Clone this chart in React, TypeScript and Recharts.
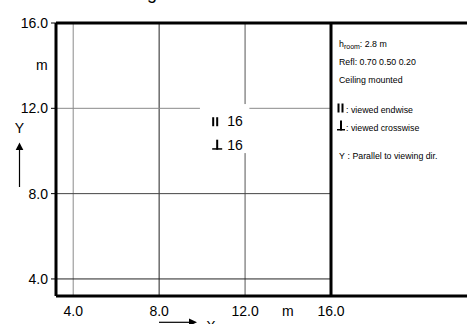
import React from 'react';
import { ComposedChart, XAxis, YAxis, ReferenceLine, Scatter } from 'recharts';

// room plan, metres
const xTicks = [4, 8, 12, 16];
const yTicks = [4, 8, 12, 16];
const gridX = [4, 8, 12];
const gridY = [4, 8, 12];
const roomEnd = 16;
const xDomain = [3.2, 22.33];
const yDomain = [3.2, 16];
// hole in the grid behind the luminaire counts
const labelGap = { x1: 9.9, x2: 12.2, y1: 9.9, y2: 12.2 };
const counts = [
  { x: 10.47, y: 11.16, view: 'endwise', n: 16 },
  { x: 10.47, y: 10.06, view: 'crosswise', n: 16 },
];
const infoLines = ['Refl: 0.70 0.50 0.20', 'Ceiling mounted'];

const W = 467;
const H = 324;
const FONT = "'Liberation Sans', Arial, sans-serif";

const shade: Record<string, string> = {
  x4: '#8a8a8a', x8: '#222', x12: '#555',
  y4: '#222', y8: '#444', y12: '#8a8a8a',
};

const split = (v: number, lo: number, hi: number, a: number, b: number, g1: number, g2: number) =>
  v > lo && v < hi ? [[a, g1], [g2, b]] : [[a, b]];

const EndwiseMark = ({ x, y }: { x: number; y: number }) => (
  <g fill="#000">
    <rect x={x} y={y - 9} width={2} height={9} />
    <rect x={x + 4} y={y - 9} width={2} height={9} />
  </g>
);
const CrosswiseMark = ({ x, y, w = 10 }: { x: number; y: number; w?: number }) => (
  <g fill="#000">
    <rect x={x + w / 2 - 1} y={y - 10} width={2} height={10} />
    <rect x={x} y={y - 1.5} width={w} height={1.5} />
  </g>
);

const CountShape = (props: any) => {
  const { cx, cy, payload } = props;
  return (
    <g>
      {payload.view === 'endwise'
        ? <EndwiseMark x={cx} y={cy} />
        : <CrosswiseMark x={cx} y={cy} />}
      <text x={cx + 15} y={cy} fontSize={14} fontFamily={FONT} fill="#000">{payload.n}</text>
    </g>
  );
};

export default function App() {
  const vSegs = gridX.flatMap((x) =>
    split(x, labelGap.x1, labelGap.x2, yDomain[0], roomEnd, labelGap.y1, labelGap.y2).map((s) => ({ x, s })));
  const hSegs = gridY.flatMap((y) =>
    split(y, labelGap.y1, labelGap.y2, xDomain[0], roomEnd, labelGap.x1, labelGap.x2).map((s) => ({ y, s })));

  return (
    <div style={{ position: 'absolute', left: 0, top: 0, width: W, height: H, background: '#fff' }}>
      <ComposedChart width={W} height={H} margin={{ top: 23, right: 0, bottom: 0, left: 0 }}>
        <XAxis
          type="number"
          dataKey="x"
          domain={xDomain}
          ticks={xTicks}
          allowDataOverflow
          height={28}
          tickFormatter={(v: number) => v.toFixed(1)}
          tick={{ fontSize: 14, fill: '#000', fontFamily: FONT }}
          tickLine={false}
          tickSize={6}
          tickMargin={4}
          axisLine={{ stroke: '#000', strokeWidth: 3 }}
        />
        <YAxis
          type="number"
          dataKey="y"
          domain={yDomain}
          ticks={yTicks}
          allowDataOverflow
          width={56}
          tickFormatter={(v: number) => v.toFixed(1)}
          tick={{ fontSize: 14, fill: '#000', fontFamily: FONT }}
          tickLine={{ stroke: '#000' }}
          tickSize={5}
          tickMargin={3}
          axisLine={{ stroke: '#000', strokeWidth: 3 }}
        />
        {vSegs.map(({ x, s }, i) => (
          <ReferenceLine key={'v' + i} segment={[{ x, y: s[0] }, { x, y: s[1] }]}
            stroke={shade['x' + x]} strokeWidth={1} ifOverflow="visible" />
        ))}
        {hSegs.map(({ y, s }, i) => (
          <ReferenceLine key={'h' + i} segment={[{ x: s[0], y }, { x: s[1], y }]}
            stroke={shade['y' + y]} strokeWidth={1} ifOverflow="visible" />
        ))}
        <ReferenceLine y={roomEnd} stroke="#000" strokeWidth={3} ifOverflow="visible" />
        <ReferenceLine x={roomEnd} stroke="#000" strokeWidth={3} ifOverflow="visible" />
        <Scatter data={counts} shape={CountShape} isAnimationActive={false} />
      </ComposedChart>

      <svg width={W} height={H} style={{ position: 'absolute', left: 0, top: 0, pointerEvents: 'none' }}>
        <text x={157} y={-1} textAnchor="end" fontSize={18} fontFamily={FONT}>Planning</text>

        {/* axis units and direction arrows */}
        <text x={36} y={70} fontSize={14} fontFamily={FONT}>m</text>
        <text x={282} y={316} fontSize={14} fontFamily={FONT}>m</text>
        <text x={19.5} y={133} textAnchor="middle" fontSize={14} fontFamily={FONT}>Y</text>
        <line x1={19.5} y1={187} x2={19.5} y2={149} stroke="#000" strokeWidth={1.2} />
        <polygon points="15.7,150 23.3,150 19.5,142.5" fill="#000" />
        <line x1={159} y1={322.3} x2={190} y2={322.3} stroke="#000" strokeWidth={1.2} />
        <polygon points="189,318.5 189,326 197,322.3" fill="#000" />
        <text x={211} y={331} textAnchor="middle" fontSize={14} fontFamily={FONT}>X</text>

        {/* info panel */}
        <g fontFamily={FONT} fontSize={8.8} fill="#000">
          <text x={339} y={46.5}>
            h<tspan dy={2.5} fontSize={7}>room</tspan><tspan dy={-2.5}>: 2.8 m</tspan>
          </text>
          {infoLines.map((t, i) => (
            <text key={t} x={339} y={64.5 + i * 18}>{t}</text>
          ))}
          <EndwiseMark x={337.5} y={112.5} />
          <text x={346} y={112.5}>: viewed endwise</text>
          <CrosswiseMark x={337} y={130.5} w={8} />
          <text x={346} y={130.5}>: viewed crosswise</text>
          <text x={339} y={158.5}>Y</text>
          <text x={347.5} y={158.5}>: Parallel to viewing dir.</text>
        </g>
      </svg>
    </div>
  );
}
